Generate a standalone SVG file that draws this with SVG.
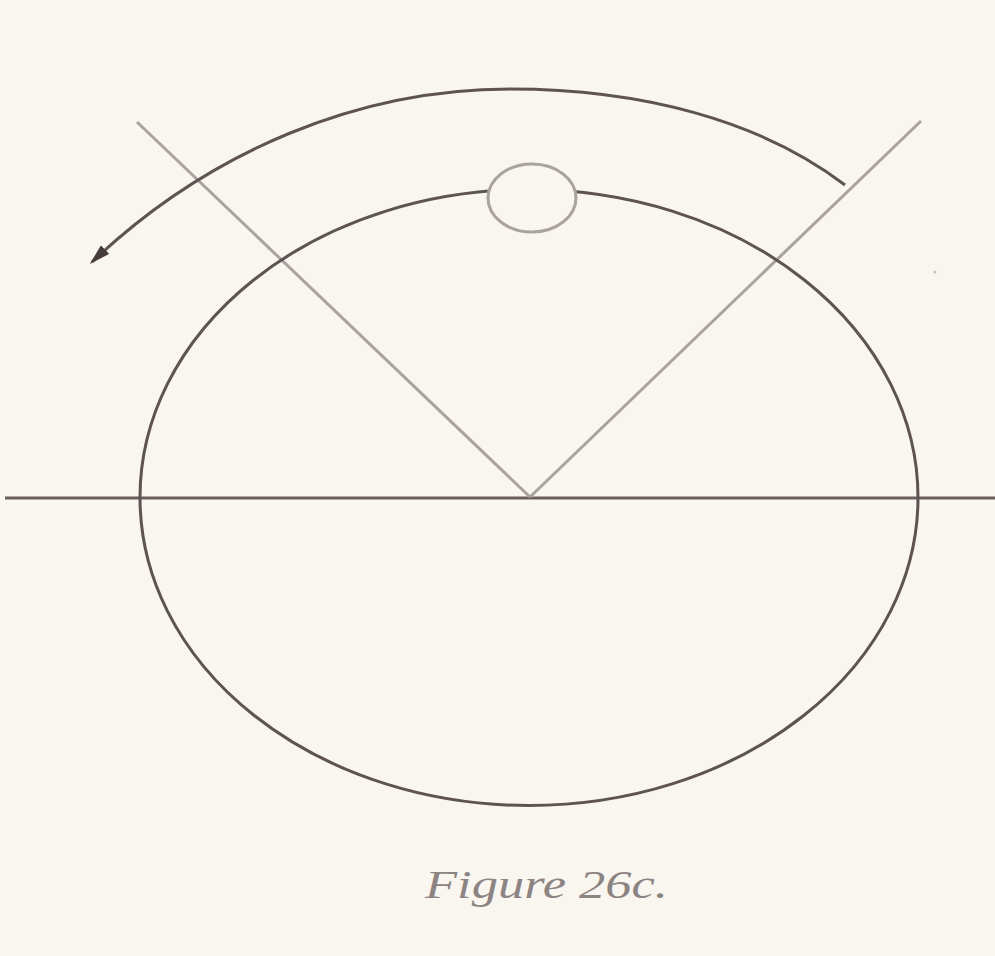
<svg xmlns="http://www.w3.org/2000/svg" width="995" height="956" viewBox="0 0 995 956">
<style>
.dark{fill:none;stroke:#5e5353;stroke-width:3}
.light{fill:none;stroke:#aaa2a0;stroke-width:3}
.cap{font-family:"Liberation Serif",serif;font-style:italic;fill:#8c8482}
</style>
<defs>
<marker id="ah" markerWidth="7" markerHeight="4" refX="6" refY="2" orient="auto" markerUnits="strokeWidth">
<path d="M0,0 L7,2 L0,4 z" fill="#463c3c"/>
</marker>
</defs>
<rect width="995" height="956" fill="#f9f5ef"/>
<g id="axis">
<line x1="5" y1="498" x2="995" y2="498" stroke="#6a5e5e" stroke-width="3"/>
</g>
<g id="v-lines">
<line class="light" x1="137" y1="122" x2="530" y2="497"/>
<line class="light" x1="921" y1="121" x2="530" y2="497"/>
</g>
<g id="ellipse">
<ellipse class="dark" cx="529" cy="497.5" rx="389" ry="308"/>
</g>
<g id="small-circle">
<ellipse cx="532" cy="198" rx="44" ry="34" fill="#f9f5ef" stroke="#aaa2a0" stroke-width="3"/>
</g>
<g id="connectors">
<path class="dark" d="M845,185 C760,120 640,89 510,89 C360,89 210,150 92,262" marker-end="url(#ah)"/>
</g>
<circle cx="935" cy="272" r="1.5" fill="#c8c0bc"/>
<text class="cap" x="425" y="898" font-size="40" textLength="243" lengthAdjust="spacingAndGlyphs">Figure 26c.</text>
</svg>
